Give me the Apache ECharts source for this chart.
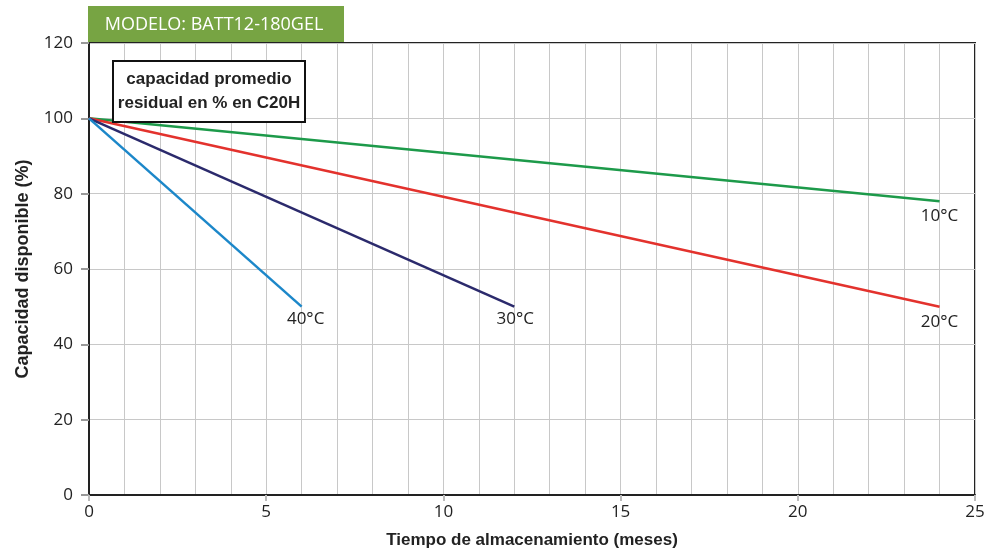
<!DOCTYPE html>
<html><head><meta charset="utf-8">
<script src="https://cdn.jsdelivr.net/npm/echarts@6/dist/echarts.min.js"></script>
<style>html,body{margin:0;padding:0;background:#fff}#c{width:988px;height:560px}</style>
</head><body><div id="c"></div>
<script>
const months10 = [0, 24];
const values10 = [100, 78];
const months20 = [0, 24];
const values20 = [100, 50];
const months30 = [0, 12];
const values30 = [100, 50];
const months40 = [0, 6];
const values40 = [100, 50];
const seriesNames = ['10°C', '20°C', '30°C', '40°C'];
const seriesColors = ['#1d9a4a', '#e3322d', '#2b2a6c', '#1c87c9'];
const headerText = 'MODELO: BATT12-180GEL';
const boxLines = ['capacidad promedio', 'residual en % en C20H'];
const xName = 'Tiempo de almacenamiento (meses)';
const yName = 'Capacidad disponible (%)';

const allX = [months10, months20, months30, months40];
const allY = [values10, values20, values30, values40];
const labelDistance = [6, 6, 3, 3];
const labelShiftX = [0, 0, 1, 4];

const chart = echarts.init(document.getElementById('c'));
const series = seriesNames.map((n, i) => {
  const last = allX[i].length - 1;
  return {
    name: n, type: 'line', symbol: 'none', animation: false,
    lineStyle: {color: seriesColors[i], width: 2.5},
    data: allX[i].map((x, j) => [x, allY[i][j]]),
    markPoint: {
      symbol: 'circle', symbolSize: 1, silent: true, animation: false,
      itemStyle: {color: 'rgba(0,0,0,0)'},
      label: {show: true, position: 'bottom', distance: labelDistance[i], offset: [labelShiftX[i], 0], formatter: n,
        fontFamily: 'Open Sans', fontSize: 17, color: '#222'},
      data: [{coord: [allX[i][last], allY[i][last]]}]
    }
  };
});

chart.setOption({
  animation: false,
  grid: {left: 89, right: 13, top: 43, bottom: 65, show: true, borderColor: '#222', borderWidth: 2, backgroundColor: 'transparent'},
  xAxis: {
    type: 'value', min: 0, max: 25, interval: 5,
    name: xName, nameLocation: 'middle', nameGap: 37,
    nameTextStyle: {fontFamily: 'Liberation Sans Narrow, Liberation Sans', fontWeight: 'bold', fontSize: 17, color: '#222'},
    axisLine: {show: true, lineStyle: {color: '#222', width: 2}},
    axisTick: {show: true, length: 6, lineStyle: {color: '#bbb', width: 2}},
    axisLabel: {fontFamily: 'Open Sans', fontSize: 17, color: '#222', margin: 9},
    splitLine: {show: true, lineStyle: {color: '#c8c8c8', width: 1}},
    minorTick: {show: false, splitNumber: 5},
    minorSplitLine: {show: true, lineStyle: {color: '#c8c8c8', width: 1}}
  },
  yAxis: {
    type: 'value', min: 0, max: 120, interval: 20,
    name: yName, nameLocation: 'middle', nameGap: 57, nameRotate: 90,
    nameTextStyle: {fontFamily: 'Liberation Sans Narrow, Liberation Sans', fontWeight: 'bold', fontSize: 18, color: '#222'},
    axisLine: {show: true, lineStyle: {color: '#222', width: 2}},
    axisTick: {show: true, length: 8, lineStyle: {color: '#999', width: 2}},
    axisLabel: {fontFamily: 'Open Sans', fontSize: 17, color: '#222', margin: 16},
    splitLine: {show: true, lineStyle: {color: '#c8c8c8', width: 1}}
  },
  series: series,
  graphic: [
    {type: 'rect', x: 88, y: 6, shape: {width: 256, height: 36}, style: {fill: '#77a443'}, z: 10},
    {type: 'text', x: 214, y: 25, style: {text: headerText, fill: '#fff', font: '18px "Open Sans"', textAlign: 'center', textVerticalAlign: 'middle'}, z: 11},
    {type: 'rect', x: 113, y: 61, shape: {width: 192, height: 61}, style: {fill: '#fff', stroke: '#111', lineWidth: 2}, z: 10},
    {type: 'text', x: 209, y: 91, style: {text: boxLines.join('\n'), fill: '#222', font: 'bold 17px "Liberation Sans"', lineHeight: 24, textAlign: 'center', textVerticalAlign: 'middle'}, z: 11}
  ]
});
</script></body></html>
